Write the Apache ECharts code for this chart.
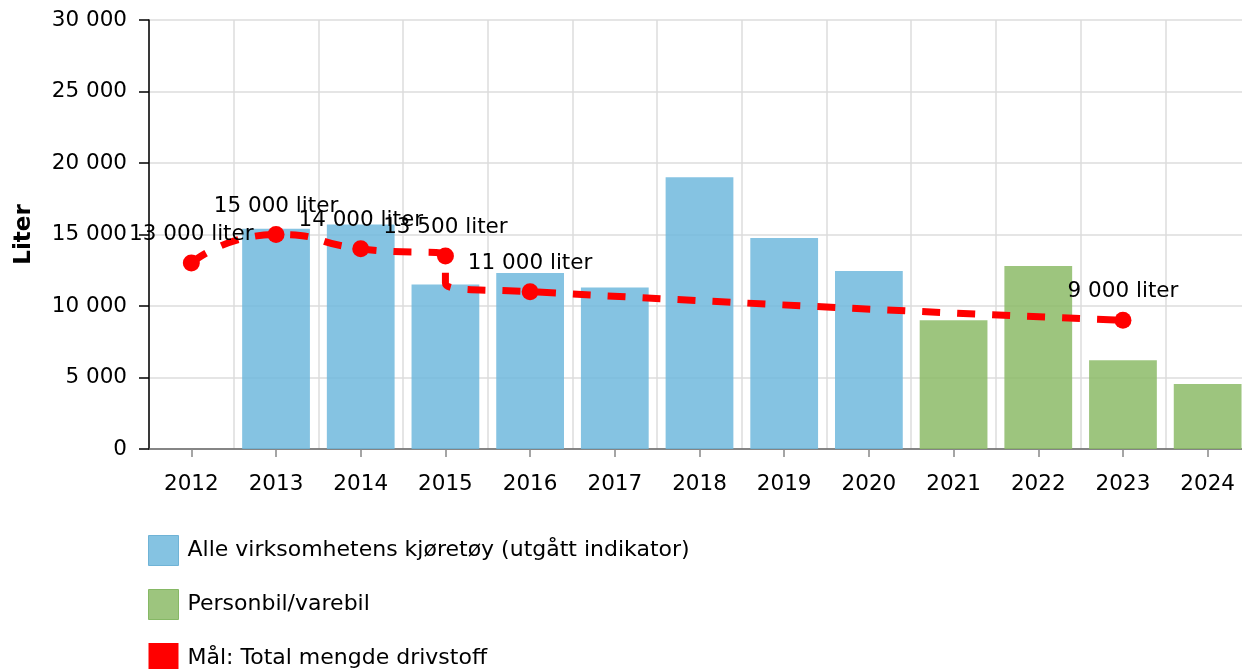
<!DOCTYPE html>
<html>
<head>
<meta charset="utf-8">
<script src="https://cdn.jsdelivr.net/npm/echarts@6/dist/echarts.min.js"></script>
<style>
html,body{margin:0;padding:0;background:#fff;}
#chart{width:1242px;height:669px;}
</style>
</head>
<body>
<div id="chart"></div>
<script>
const years = ['2012','2013','2014','2015','2016','2017','2018','2019','2020','2021','2022','2023','2024'];
const alleKjoretoy = [null, 15400, 15700, 11500, 12300, 11300, 19000, 14750, 12450, null, null, null, null];
const personbil = [null, null, null, null, null, null, null, null, null, 9000, 12800, 6200, 4550];
// target line: [year index, value, labelled?]
const malPunkter = [[0,13000,true],[1,15000,true],[2,14000,true],[3,13500,true],[3,11600,false],[4,11000,true],[11,9000,true]];
const yTicks = [0,5000,10000,15000,20000,25000,30000];
const seriesNames = ['Alle virksomhetens kjøretøy (utgått indikator)','Personbil/varebil','Mål: Total mengde drivstoff'];

const fmt = v => String(v).replace(/\B(?=(\d{3})+(?!\d))/g, ' ');
const FONT = 'DejaVu Sans';

const chart = echarts.init(document.getElementById('chart'), null, {renderer:'canvas'});
chart.setOption({
  animation:false,
  textStyle:{fontFamily:FONT},
  grid:{left:149, width:1101, top:20, height:429, containLabel:false, outerBoundsMode:'none'},
  legend:{
    orient:'vertical', left:148, top:535, height:150, padding:0, itemGap:23, itemWidth:30, itemHeight:30,
    textStyle:{fontFamily:FONT, fontSize:22, color:'#000', padding:[0,0,0,4]},
    data:[
      {name:seriesNames[0], icon:'rect', itemStyle:{color:'#85c3e2', borderColor:'#6fb3d6', borderWidth:1}},
      {name:seriesNames[1], icon:'rect', itemStyle:{color:'#9dc57e', borderColor:'#86b865', borderWidth:1}},
      {name:seriesNames[2], icon:'rect', itemStyle:{color:'#ff0000', borderWidth:0}}
    ]
  },
  xAxis:[
    {type:'category', data:years, boundaryGap:true,
     axisLine:{lineStyle:{color:'#666', width:1.5}},
     axisTick:{show:true, alignWithLabel:true, length:8, lineStyle:{color:'#888', width:1.5}},
     axisLabel:{color:'#000', fontSize:21.5, fontFamily:FONT, margin:24},
     splitLine:{show:true, interval:0, lineStyle:{color:'#dcdcdc', width:1.5}}
    },
    {type:'value', min:-0.5, max:12.5, show:false}
  ],
  yAxis:{
    type:'value', min:0, max:30000, interval:5000,
    name:'Liter', nameLocation:'middle', nameGap:113, nameRotate:90,
    nameTextStyle:{fontFamily:FONT, fontSize:23, fontWeight:'bold', color:'#000'},
    axisLine:{show:true, onZero:false, lineStyle:{color:'#000', width:1.5}},
    axisTick:{show:true, length:10, inside:false, lineStyle:{color:'#000', width:1.5}},
    axisLabel:{color:'#000', fontSize:21.5, fontFamily:FONT, margin:22, formatter:v=>fmt(v)},
    splitLine:{show:true, lineStyle:{color:'#dcdcdc', width:1.5}}
  },
  series:[
    {name:seriesNames[0], type:'bar', xAxisIndex:0, stack:'s', barWidth:'80%',
     itemStyle:{color:'rgba(112,184,221,0.85)'}, data:alleKjoretoy},
    {name:seriesNames[1], type:'bar', xAxisIndex:0, stack:'s', barWidth:'80%',
     itemStyle:{color:'rgba(140,187,103,0.85)'}, data:personbil},
    {name:seriesNames[2], type:'line', xAxisIndex:1, smooth:0.6, z:5,
     lineStyle:{color:'#ff0000', width:7, type:[18,17], cap:'butt'},
     itemStyle:{color:'#ff0000'},
     symbol:'circle', symbolSize:17, showAllSymbol:true,
     label:{show:true, position:'top', distance:9, fontSize:21.5, fontFamily:FONT, color:'#000',
            formatter:p=>fmt(p.value[1])+' liter'},
     data:malPunkter.map(p => p[2] ? {value:[p[0],p[1]]} :
        {value:[p[0],p[1]], symbol:'none', label:{show:false}})
    }
  ]
});
</script>
</body>
</html>
